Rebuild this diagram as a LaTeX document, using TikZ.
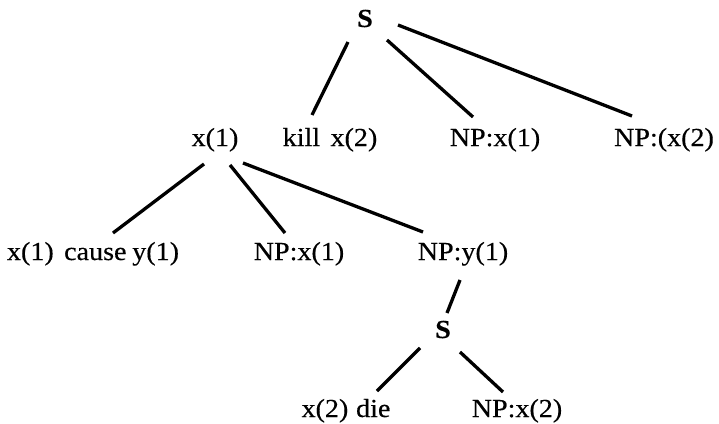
\documentclass[tikz,border=0pt]{standalone}
\usepackage{fontspec}
\setmainfont{Liberation Serif}[FakeStretch=1.08, FakeBold=0.4]
\usetikzlibrary{calc}
\tikzset{
  lbl/.style={anchor=base, inner sep=0pt, font=\fontsize{26}{30}\selectfont},
  root/.style={lbl, font=\fontsize{26}{30}\selectfont\bfseries},
  branch/.style={line width=3.3pt, line cap=butt}
}
\begin{document}
\begin{tikzpicture}[x=1pt,y=-1pt]
\useasboundingbox (0,0) rectangle (719,423);
% nodes
\node[root] (S1) at (365,27) {S};
\node[lbl] (x1) at (215,146) {x(1)};
\node[lbl] (kill) at (330,146) {kill\hspace{0.4em}x(2)};
\node[lbl] (npxa) at (495,146) {NP:x(1)};
\node[lbl] (npxb) at (664,146) {NP:(x(2)};
\node[lbl] (cause) at (93,260) {x(1)\hspace{0.4em}cause\hspace{0.22em}y(1)};
\node[lbl] (npxc) at (299,260) {NP:x(1)};
\node[lbl] (npy) at (463,260) {NP:y(1)};
\node[root] (S2) at (443,338) {S};
\node[lbl] (die) at (346,417) {x(2)\hspace{0.3em}die};
\node[lbl] (npxd) at (517,417) {NP:x(2)};
% connectors
\draw[branch] ($(S1.base)+(-17,15)$) -- ($(kill.base)+(-18,-31)$);
\draw[branch] ($(S1.base)+(22,13)$) -- ($(npxa.base)+(-22,-29)$);
\draw[branch] ($(S1.base)+(33,-2)$) -- ($(npxb.base)+(-32,-30)$);
\draw[branch] ($(x1.base)+(-11,18)$) -- ($(cause.base)+(20,-27)$);
\draw[branch] ($(x1.base)+(15,19)$) -- ($(npxc.base)+(-14,-27)$);
\draw[branch] ($(x1.base)+(28,17)$) -- ($(npy.base)+(-40,-28)$);
\draw[branch] ($(npy.base)+(-3,20)$) -- ($(S2.base)+(4,-25)$);
\draw[branch] ($(S2.base)+(-23,10)$) -- ($(die.base)+(31,-26)$);
\draw[branch] ($(S2.base)+(17,14)$) -- ($(npxd.base)+(-14,-25)$);
\end{tikzpicture}
\end{document}
